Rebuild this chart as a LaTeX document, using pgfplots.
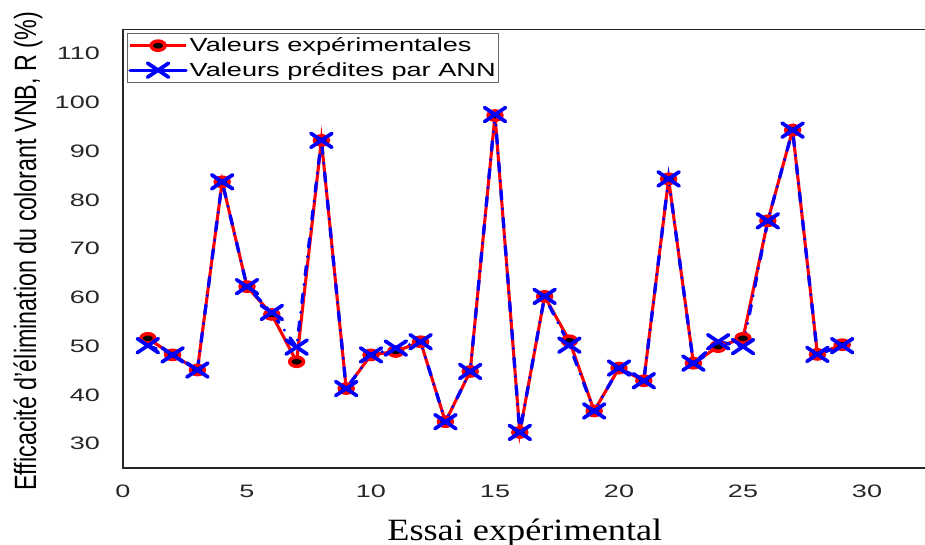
\documentclass[border=0pt]{standalone}
\usepackage{fontspec}
\setmainfont{Liberation Sans}
\newfontfamily\seriffont{Liberation Serif}
\usepackage{graphicx}
\usepackage{pgfplots}
\usepackage{pgfplotstable}
\pgfplotsset{compat=1.18}

% Removal efficiency per run: measured values and ANN predictions
\pgfplotstableread{
essai exp  pred
1     51.6 50.1
2     48.2 48.2
3     45.1 45.1
4     83.7 83.7
5     62.2 62.2
6     56.5 56.9
7     46.8 49.8
8     92.2 92.2
9     41.3 41.3
10    48.2 48.2
11    48.9 49.6
12    50.9 50.9
13    34.5 34.5
14    44.8 44.8
15    97.3 97.5
16    32.3 32.3
17    60.2 60.2
18    51.1 50.2
19    36.7 36.7
20    45.5 45.5
21    42.9 42.9
22    84.3 84.3
23    46.5 46.5
24    49.9 50.9
25    51.6 49.9
26    75.7 75.7
27    94.3 94.3
28    48.3 48.3
29    50.3 50.1
}\data

\definecolor{expred}{rgb}{1,0,0}
\definecolor{annblue}{rgb}{0,0,1}

\begin{document}
\begin{tikzpicture}
\begin{axis}[
  x=24.8pt, y=4.875pt,
  xmin=0, xmax=32.6, ymin=25, ymax=115,
  axis line style={line width=1.3pt, black!85},
  xtick={0,5,...,30}, ytick={30,40,...,110},
  major tick length=0pt,
  /pgf/number format/assume math mode=true,
  tick label style={font=\fontsize{18}{18}\selectfont, black!85},
  xticklabel={\scalebox{1.5}[1]{\pgfmathprintnumber{\tick}}},
  yticklabel={\scalebox{1.5}[1]{\pgfmathprintnumber{\tick}}},
  xticklabel style={anchor=north, inner sep=0pt, yshift=-17pt},
  yticklabel style={anchor=east, inner sep=0pt, xshift=-23pt},
  every axis y label/.style={at={(axis description cs:-0.1076,-0.0524)},
    rotate=90, anchor=base west, font=\fontsize{23.3}{24}\selectfont, inner sep=0pt},
  every axis x label/.style={at={(axis description cs:0.497,-0.1641)},
    anchor=base, font=\seriffont\fontsize{31}{31}\selectfont, inner sep=0pt},
  ylabel={\scalebox{1}[1.32]{Efficacité d'élimination du colorant VNB, R (\%)}},
  xlabel={\scalebox{1.17}[1]{Essai expérimental}},
  legend image code/.code={\draw[mark repeat=2,mark phase=2,#1]
    plot coordinates {(0pt,0pt) (28pt,0pt) (56pt,0pt)};},
  legend image post style={solid},
  legend cell align=left,
  legend style={at={(axis description cs:0.0049,0.9915)}, anchor=north west,
    draw=black!60, line width=0.9pt, fill=white,
    inner xsep=1pt, inner ysep=0pt, row sep=0pt,
    font=\fontsize{19}{19}\selectfont,
    nodes={inner ysep=4.5pt, inner xsep=2pt}},
]
\addplot[expred, line width=3.1pt, mark=*, mark size=4.6pt,
  mark options={xscale=1.5, fill=black, draw=expred, line width=3.5pt, solid}]
  table[x=essai, y=exp]{\data};
\addlegendentry{\scalebox{1.43}[1]{Valeurs expérimentales}}
\addplot[annblue, line width=3.3pt, line cap=round,
  dash pattern=on 9pt off 9.5pt on 0pt off 9.5pt,
  mark=x, mark size=9.9pt,
  mark options={xscale=1.5, line width=3.7pt, solid}]
  table[x=essai, y=pred]{\data};
\addlegendentry{\scalebox{1.43}[1]{Valeurs prédites par ANN}}
\end{axis}
\pgfresetboundingbox
\path (-123pt,-76pt) rectangle (802pt,468pt);
\end{tikzpicture}
\end{document}
